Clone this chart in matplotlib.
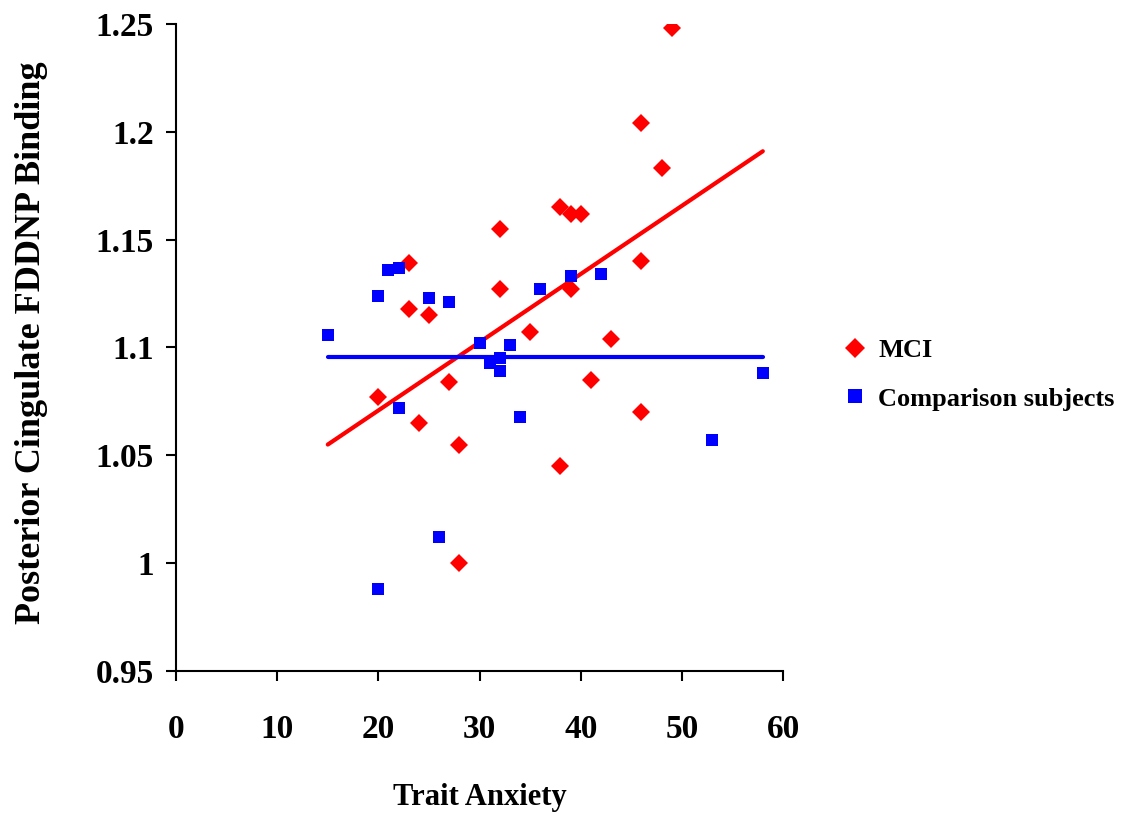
import matplotlib
matplotlib.use('Agg')
import matplotlib.pyplot as plt

# Dados
mci_x = [20, 23, 23, 24, 25, 27, 28, 28, 32, 32, 35, 38, 38, 39, 39, 40, 41, 43, 46, 46, 46, 48, 49]
mci_y = [1.077, 1.139, 1.118, 1.065, 1.115, 1.084, 1.055, 1.000, 1.155, 1.127, 1.107, 1.165, 1.045,
         1.162, 1.127, 1.162, 1.085, 1.104, 1.204, 1.140, 1.070, 1.183, 1.248]

comp_x = [15, 20, 20, 21, 22, 22, 25, 26, 27, 30, 31, 32, 32, 33, 34, 36, 39, 42, 53, 58]
comp_y = [1.106, 1.124, 0.988, 1.136, 1.137, 1.072, 1.123, 1.012, 1.121, 1.102, 1.093, 1.095,
          1.089, 1.101, 1.068, 1.127, 1.133, 1.134, 1.057, 1.088]

# Linhas de tendência (extremos)
trend_x = [15, 58]
mci_trend = [1.055, 1.191]
comp_trend = [1.0955, 1.0955]

x_ticks = [0, 10, 20, 30, 40, 50, 60]
y_ticks = [0.95, 1.0, 1.05, 1.1, 1.15, 1.2, 1.25]
y_labels = ['0.95', '1', '1.05', '1.1', '1.15', '1.2', '1.25']

plt.rcParams['font.family'] = ['Liberation Serif', 'DejaVu Serif']
plt.rcParams['font.weight'] = 'bold'

fig = plt.figure(figsize=(11.27, 8.16), dpi=100)
ax = fig.add_axes([0.1562, 0.1777, 0.5386, 0.7929])

ax.plot(trend_x, mci_trend, color='#ff0000', lw=3, solid_capstyle='round', zorder=2)
ax.plot(trend_x, comp_trend, color='#0000ff', lw=3, solid_capstyle='round', zorder=2)
ax.plot(mci_x, mci_y, linestyle='none', marker='D', markersize=9, color='#ff0000',
        markeredgewidth=0, label='MCI', zorder=3)
ax.plot(comp_x, comp_y, linestyle='none', marker='s', markersize=8.6, color='#0000ff',
        markeredgewidth=0, label='Comparison subjects', zorder=3)

ax.set_xlim(0, 60)
ax.set_ylim(0.95, 1.25)
ax.set_xticks(x_ticks)
ax.set_yticks(y_ticks)
ax.set_yticklabels(y_labels)

for s in ['top', 'right']:
    ax.spines[s].set_visible(False)
for s in ['left', 'bottom']:
    ax.spines[s].set_linewidth(1.5)
    ax.spines[s].set_color('black')

ax.tick_params(axis='both', direction='out', length=7, width=1.5, labelsize=24)
ax.tick_params(axis='x', pad=24)
ax.tick_params(axis='y', pad=9)

ax.set_xlabel('Trait Anxiety', fontsize=22, fontweight='bold', labelpad=27)
ax.set_ylabel('Posterior Cingulate FDDNP Binding', fontsize=26, fontweight='bold')
ax.yaxis.set_label_coords(-0.211, 0.508)

ax.legend(loc='center left', bbox_to_anchor=(1.057, 0.458), frameon=False, fontsize=19,
          handletextpad=0.4, labelspacing=0.95, handlelength=1.0, markerscale=1.15)

fig.savefig('out.png', dpi=100)
